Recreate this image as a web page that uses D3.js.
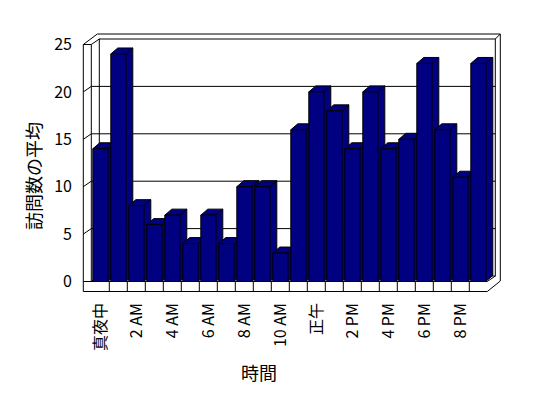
<!DOCTYPE html>
<html>
<head>
<meta charset="utf-8">
<script src="https://cdn.jsdelivr.net/npm/d3@7"></script>
<style>
  body { margin: 0; background: #fff; }
  text { font-family: "Noto Sans CJK JP", sans-serif; fill: #000; }
</style>
</head>
<body>
<div id="chart"></div>
<script>
// hours of the day (22 categories, every other one labelled)
const categories = ["真夜中", "1 AM", "2 AM", "3 AM", "4 AM", "5 AM", "6 AM", "7 AM", "8 AM", "9 AM", "10 AM", "11 AM",
  "正午", "1 PM", "2 PM", "3 PM", "4 PM", "5 PM", "6 PM", "7 PM", "8 PM", "9 PM"];
const visits = [14, 24, 8, 6, 7, 4, 7, 4, 10, 10, 3, 16, 20, 18, 14, 20, 14, 15, 23, 16, 11, 23];
const yTicks = [0, 5, 10, 15, 20, 25];
const yTitle = "訪問数の平均";
const xTitle = "時間";

const width = 548, height = 398;
const DX = 8, DY = -5.5;      // depth of the plot box
const BDX = 7, BDY = -6;      // depth of a bar
const navy = "#000080";

const svg = d3.select("#chart").append("svg")
  .attr("width", width)
  .attr("height", height);

const x = d3.scaleBand()
  .domain(categories)
  .range([91.3, 487.3])
  .paddingInner(1 / 6)
  .paddingOuter(1 / 12);

const y = d3.scaleLinear()
  .domain([0, 25])
  .range([281.5, 44.5]);

const xL = x.range()[0], xR = x.range()[1];
const yB = y(0), yT = y(25);
const step = x.step();

// walls + floor outline
const frame = svg.append("g")
  .attr("fill", "none")
  .attr("stroke", "#000")
  .attr("stroke-width", 1);

frame.append("polygon")
  .attr("fill", "#fff")
  .attr("points", [
    [xL - 8, yT], [xL + 6, yT + DY - 5], [xR + DX + 5, yT + DY - 5],
    [xR + DX + 5, yB + DY + 5], [xR, yB + 10], [xL - 8, yB + 10]
  ].join(" "));

frame.append("rect")
  .attr("x", xL + DX).attr("y", yT + DY)
  .attr("width", xR - xL).attr("height", yB - yT);

const segs = [
  [[xL - 8, yT], [xL, yT]],
  [[xL, yT], [xL + DX, yT + DY]],
  [[xR + DX, yT + DY], [xR + DX + 5, yT + DY - 5]],
  [[xR + DX, yB + DY], [xR, yB]],
  [[xL - 8, yB], [xR, yB]],
  [[xL, yT], [xL, yB]],
  [[xL, yB], [xL + DX, yB + DY]]
];
frame.selectAll("line.edge")
  .data(segs)
  .join("line")
  .attr("class", "edge")
  .attr("x1", d => d[0][0]).attr("y1", d => d[0][1])
  .attr("x2", d => d[1][0]).attr("y2", d => d[1][1]);

// gridlines with their little ticks on the side wall
frame.selectAll("path.grid")
  .data(yTicks.filter(v => v > 0 && v < 25))
  .join("path")
  .attr("class", "grid")
  .attr("d", v => `M${xL - 8},${y(v)}L${xL},${y(v) + DY}L${xR + DX},${y(v) + DY}`);

// floor ticks between categories
frame.selectAll("line.ftick")
  .data(categories.slice(1))
  .join("line")
  .attr("class", "ftick")
  .attr("x1", (d, i) => xL + step * (i + 1))
  .attr("x2", (d, i) => xL + step * (i + 1))
  .attr("y1", yB).attr("y2", yB + 10);

// bars, left to right so the right one covers the side of the left one
const bw = x.bandwidth();
const bars = svg.append("g")
  .attr("fill", navy)
  .attr("stroke", "#000")
  .attr("stroke-width", 1)
  .attr("stroke-linejoin", "round");

categories.forEach((c, i) => {
  const bx = x(c), by = y(visits[i]);
  const g = bars.append("g");
  g.append("polygon")
    .attr("points", [[bx + bw, by], [bx + bw + BDX, by + BDY], [bx + bw + BDX, yB + BDY], [bx + bw, yB]].join(" "));
  g.append("polygon")
    .attr("points", [[bx, by], [bx + BDX, by + BDY], [bx + bw + BDX, by + BDY], [bx + bw, by]].join(" "));
  g.append("rect")
    .attr("x", bx).attr("y", by)
    .attr("width", bw).attr("height", yB - by);
});

// value axis labels
svg.append("g")
  .selectAll("text")
  .data(yTicks)
  .join("text")
  .attr("x", 72)
  .attr("y", d => y(d))
  .attr("dy", "0.35em")
  .attr("text-anchor", "end")
  .attr("fill", "#000")
  .style("font-size", "16px")
  .text(d => d);

// category labels, every other hour
svg.append("g")
  .selectAll("text")
  .data(categories.filter((d, i) => i % 2 === 0))
  .join("text")
  .attr("transform", d => `translate(${x(d) + bw / 2},303) rotate(-90)`)
  .attr("dy", "0.35em")
  .attr("text-anchor", "end")
  .attr("fill", "#000")
  .style("font-size", "16px")
  .text(d => d);

// titles
svg.append("text")
  .attr("transform", "translate(35,176) rotate(-90)")
  .attr("dy", "0.35em")
  .attr("text-anchor", "middle")
  .attr("fill", "#000")
  .style("font-size", "18px")
  .text(yTitle);

svg.append("text")
  .attr("x", 259)
  .attr("y", 374)
  .attr("dy", "0.35em")
  .attr("text-anchor", "middle")
  .attr("fill", "#000")
  .style("font-size", "18px")
  .text(xTitle);
</script>
</body>
</html>
